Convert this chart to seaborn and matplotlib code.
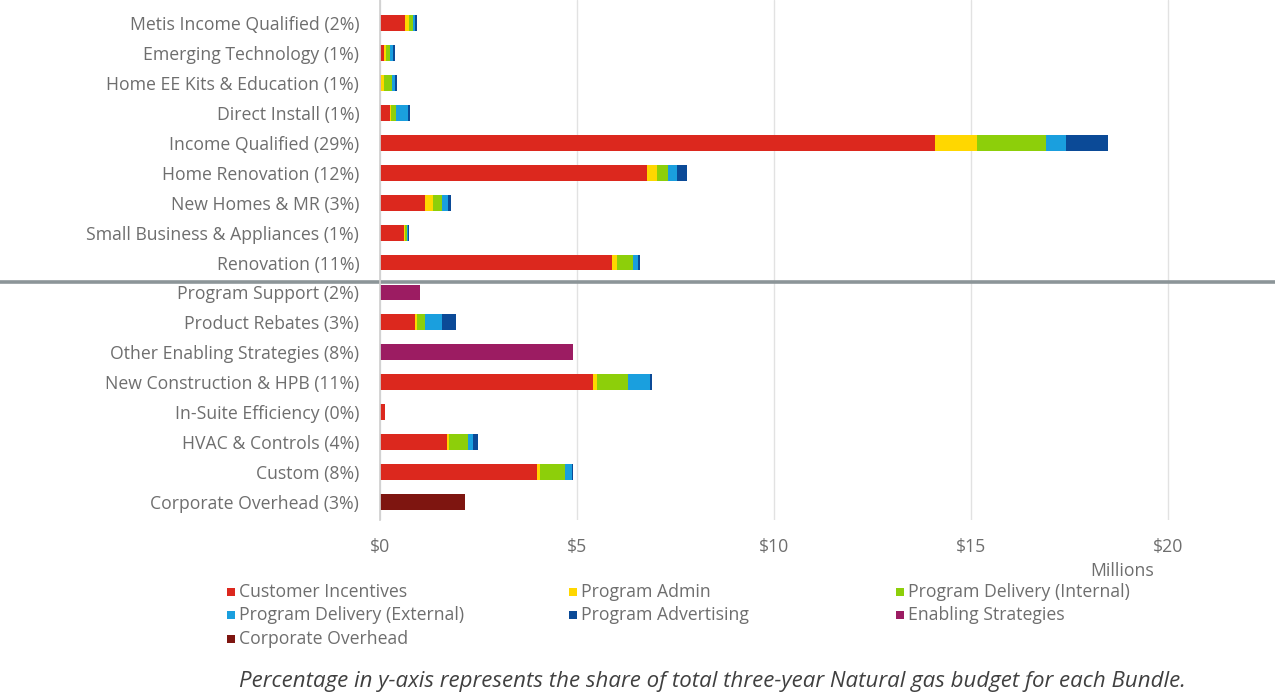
import numpy as np
import pandas as pd
import matplotlib
matplotlib.use("Agg")
import matplotlib.pyplot as plt
from matplotlib.patches import Rectangle
import seaborn as sns

bundles = [
    "Metis Income Qualified (2%)",
    "Emerging Technology (1%)",
    "Home EE Kits & Education (1%)",
    "Direct Install (1%)",
    "Income Qualified (29%)",
    "Home Renovation (12%)",
    "New Homes & MR (3%)",
    "Small Business & Appliances (1%)",
    "Renovation (11%)",
    "Program Support (2%)",
    "Product Rebates (3%)",
    "Other Enabling Strategies (8%)",
    "New Construction & HPB (11%)",
    "In-Suite Efficiency (0%)",
    "HVAC & Controls (4%)",
    "Custom (8%)",
    "Corporate Overhead (3%)",
]

# budget components, $ millions
customer_incentives = [0.63, 0.11, 0.03, 0.25, 14.09, 6.78, 1.14, 0.61, 5.89, 0.00, 0.89, 0.00, 5.41, 0.13, 1.70, 3.98, 0.00]
program_admin       = [0.10, 0.03, 0.06, 0.04, 1.07, 0.25, 0.20, 0.03, 0.13, 0.00, 0.05, 0.00, 0.10, 0.00, 0.05, 0.08, 0.00]
delivery_internal   = [0.10, 0.11, 0.21, 0.11, 1.73, 0.28, 0.23, 0.05, 0.40, 0.00, 0.20, 0.00, 0.79, 0.00, 0.48, 0.63, 0.00]
delivery_external   = [0.05, 0.08, 0.08, 0.30, 0.51, 0.23, 0.15, 0.02, 0.13, 0.00, 0.43, 0.00, 0.56, 0.00, 0.12, 0.18, 0.00]
program_advertising = [0.05, 0.04, 0.04, 0.06, 1.07, 0.25, 0.08, 0.03, 0.04, 0.00, 0.36, 0.00, 0.05, 0.00, 0.13, 0.03, 0.00]
enabling_strategies = [0.00, 0.00, 0.00, 0.00, 0.00, 0.00, 0.00, 0.00, 0.00, 1.02, 0.00, 4.90, 0.00, 0.00, 0.00, 0.00, 0.00]
corporate_overhead  = [0.00, 0.00, 0.00, 0.00, 0.00, 0.00, 0.00, 0.00, 0.00, 0.00, 0.00, 0.00, 0.00, 0.00, 0.00, 0.00, 2.16]

components = [
    ("Customer Incentives", customer_incentives, "#DC281E"),
    ("Program Admin", program_admin, "#FFD700"),
    ("Program Delivery (Internal)", delivery_internal, "#8DCF0A"),
    ("Program Delivery (External)", delivery_external, "#1A9FDE"),
    ("Program Advertising", program_advertising, "#0B4A97"),
    ("Enabling Strategies", enabling_strategies, "#9C1C62"),
    ("Corporate Overhead", corporate_overhead, "#7E1510"),
]

TEXT = "#6E6E6E"
FS = 12.7

sns.set_theme(style="white")
plt.rcParams["font.family"] = ["Open Sans", "DejaVu Sans"]

df = pd.DataFrame({"bundle": bundles})
running = np.zeros(len(bundles))
for name, vals, _ in components:
    running = running + np.array(vals)
    df[name] = running.copy()

W, H = 1275, 694
fig = plt.figure(figsize=(W / 100, H / 100), dpi=100)
ax = fig.add_axes([380 / W, 174 / H, 867 / W, 520 / H])

# stacked bars: draw cumulative totals from the outermost layer inwards
for name, _, color in reversed(components):
    sns.barplot(data=df, y="bundle", x=name, color=color, orient="h",
                width=0.53, ax=ax, saturation=1, linewidth=0)

ax.set_xlim(0, 22)
ax.set_ylim(16.6, -0.77)
ax.set_xticks([0, 5, 10, 15, 20])
ax.set_xticklabels(["$0", "$5", "$10", "$15", "$20"])
ax.set_xlabel("")
ax.set_ylabel("")
ax.xaxis.grid(True, color="#E2E2E2", linewidth=1)
ax.set_axisbelow(True)
for side in ["top", "right", "bottom"]:
    ax.spines[side].set_visible(False)
ax.spines["left"].set_color("#D0D0D0")
ax.tick_params(axis="y", length=0, pad=15, labelsize=FS, labelcolor=TEXT)
ax.tick_params(axis="x", length=0, pad=13, labelsize=FS, labelcolor=TEXT)

# divider between residential and commercial/enabling bundles
ax.axhline(8.65, xmin=-0.45, xmax=1.04, color="#8C9598", linewidth=2.6, clip_on=False)

fig.text(1090 / W, 1 - 571 / H, "Millions", fontsize=FS, color=TEXT,
         ha="left", va="center")

# legend laid out in three columns
colors = {name: color for name, _, color in components}
columns = [
    (231, ["Customer Incentives", "Program Delivery (External)", "Corporate Overhead"]),
    (573, ["Program Admin", "Program Advertising"]),
    (900, ["Program Delivery (Internal)", "Enabling Strategies"]),
]
row_y = [592, 615, 639]
for x0, names in columns:
    for name, y0 in zip(names, row_y):
        fig.patches.append(Rectangle(((x0 - 4) / W, 1 - (y0 + 4) / H), 8 / W, 8 / H,
                                     transform=fig.transFigure, facecolor=colors[name],
                                     edgecolor="none"))
        fig.text((x0 + 8) / W, 1 - y0 / H, name, fontsize=FS, color=TEXT,
                 ha="left", va="center")

fig.text(712 / W, 1 - 681 / H,
         "Percentage in y-axis represents the share of total three-year Natural gas budget for each Bundle.",
         fontsize=16, style="italic", color="#404040", ha="center", va="center")

fig.savefig("out.png", dpi=100)
